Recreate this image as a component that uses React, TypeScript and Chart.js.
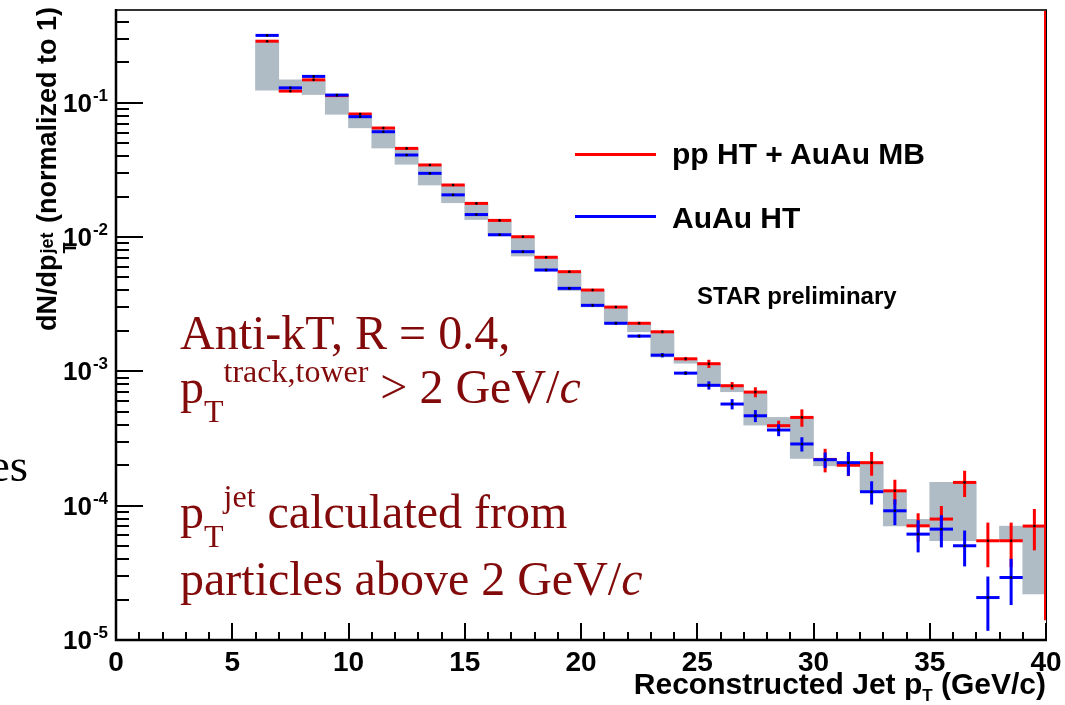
import React, { useEffect, useRef } from 'react';
import { Chart, registerables } from 'chart.js';

Chart.register(...registerables);

// Bin lower edges (GeV/c); every bin is 1 GeV/c wide
const BIN_LOW = [6, 7, 8, 9, 10, 11, 12, 13, 14, 15, 16, 17, 18, 19, 20, 21, 22, 23, 24, 25, 26, 27, 28, 29, 30, 31, 32, 33, 34, 35, 36, 37, 38, 39];

// pp HT + AuAu MB (red)
const RED = [0.287, 0.122, 0.148, 0.113, 0.0824, 0.0648, 0.0457, 0.0344, 0.0244, 0.0178, 0.0133, 0.01005, 0.00707, 0.00552, 0.00403, 0.00301, 0.00228, 0.00197, 0.00124, 0.00114, 0.000782, 0.000701, 0.000394, 0.000454, 0.000221, 0.0002, 0.000209, 0.000129, 0.0000708, 0.0000795, 0.000149, 0.0000548, 0.0000548, 0.0000705];
const RED_ERR = [0.004, 0.002, 0.003, 0.002, 0.0012, 0.0012, 0.0007, 0.0005, 0.0004, 0.0003, 0.0002, 0.00017, 0.00012, 0.0001, 0.00008, 0.00006, 0.00006, 0.00005, 0.00004, 0.00008, 0.00005, 0.00006, 0.000035, 0.000067, 0.000044, 0.000034, 0.000042, 0.000027, 0.000017, 0.00002, 0.000033, 0.00002, 0.00002, 0.000024];

// AuAu HT (blue)
const BLUE = [0.317, 0.129, 0.157, 0.114, 0.0787, 0.0608, 0.0408, 0.0298, 0.0206, 0.0147, 0.0104, 0.00778, 0.00568, 0.00415, 0.0031, 0.00228, 0.00183, 0.00132, 0.00097, 0.000787, 0.000571, 0.000467, 0.000366, 0.000288, 0.00022, 0.000209, 0.000127, 0.0000916, 0.0000614, 0.0000669, 0.0000503, 0.0000207, 0.0000292, null];
const BLUE_ERR = [0.004, 0.002, 0.002, 0.0015, 0.001, 0.0008, 0.0006, 0.0004, 0.0003, 0.00025, 0.0002, 0.00015, 0.00012, 0.0001, 0.00008, 0.00006, 0.00005, 0.00005, 0.00003, 0.000055, 0.00005, 0.000048, 0.000037, 0.000035, 0.000029, 0.000042, 0.000025, 0.00002, 0.0000165, 0.000018, 0.000015, 0.000009, 0.000011, null];

// Grey systematic band (low / high edge per bin)
const SYS_LOW = [0.124, 0.124, 0.115, 0.082, 0.065, 0.046, 0.0348, 0.0244, 0.018, 0.0135, 0.0102, 0.00722, 0.0056, 0.004, 0.00302, 0.00225, 0.00197, 0.00128, 0.00115, 0.00079, 0.000705, 0.000398, 0.000383, 0.000225, 0.000198, 0.000198, 0.000127, 0.0000708, 0.0000708, 0.0000548, 0.0000548, null, 0.0000548, 0.000022];
const SYS_HIGH = [0.29, 0.148, 0.148, 0.114, 0.0824, 0.0648, 0.0457, 0.0344, 0.0244, 0.0178, 0.0133, 0.01005, 0.00707, 0.00552, 0.00403, 0.00301, 0.00228, 0.00197, 0.00124, 0.00114, 0.000782, 0.000701, 0.000454, 0.000454, 0.000221, 0.000209, 0.000209, 0.000129, 0.0000791, 0.000149, 0.000149, null, 0.0000704, 0.0000705];

const X_TICKS = [0, 5, 10, 15, 20, 25, 30, 35, 40];
const Y_DECADES = [-5, -4, -3, -2, -1];

const SANS = '"Liberation Sans", Arial, sans-serif';
const SERIF = '"Liberation Serif", "Times New Roman", serif';
const NOTE = '#820a0a';

const histPlugin = {
  id: 'rootHist',
  beforeDatasetDraw(chart: any, args: any) {
    const ds = chart.data.datasets[args.index];
    if (!ds.errorBars) return;
    const { ctx, chartArea } = chart;
    const x = chart.scales.x;
    const y = chart.scales.y;
    ctx.save();
    ctx.beginPath();
    ctx.rect(chartArea.left, chartArea.top, chartArea.right - chartArea.left, chartArea.bottom - chartArea.top);
    ctx.clip();
    ctx.strokeStyle = ds.borderColor;
    ctx.lineWidth = 3;
    ctx.lineCap = 'butt';
    ds.data.forEach((p: any, i: number) => {
      if (!p || p.y == null) return;
      const py = y.getPixelForValue(p.y);
      ctx.beginPath();
      ctx.moveTo(x.getPixelForValue(p.x - 0.5), py);
      ctx.lineTo(x.getPixelForValue(p.x + 0.5), py);
      ctx.stroke();
      const e = ds.errorBars[i];
      if (e) {
        const px = x.getPixelForValue(p.x);
        const top = y.getPixelForValue(p.y + e);
        const bot = p.y - e > 0 ? y.getPixelForValue(p.y - e) : chartArea.bottom;
        ctx.beginPath();
        ctx.moveTo(px, top);
        ctx.lineTo(px, bot);
        ctx.stroke();
      }
    });
    ctx.restore();
  },
  afterDatasetsDraw(chart: any) {
    const { ctx, chartArea } = chart;
    const x = chart.scales.x;
    const y = chart.scales.y;
    const L = chartArea.left, R = chartArea.right, T = chartArea.top, B = chartArea.bottom;
    ctx.save();
    // red edge line at x = 40
    ctx.strokeStyle = '#ff0000';
    ctx.lineWidth = 2;
    ctx.beginPath();
    ctx.moveTo(x.getPixelForValue(x.max) - 1, T);
    ctx.lineTo(x.getPixelForValue(x.max) - 1, y.getPixelForValue(1.4e-5));
    ctx.stroke();
    // frame
    ctx.strokeStyle = '#333';
    ctx.lineWidth = 2;
    ctx.beginPath();
    ctx.moveTo(L, T);
    ctx.lineTo(R + 1, T);
    ctx.stroke();
    ctx.strokeStyle = '#000';
    ctx.lineWidth = 1;
    ctx.beginPath();
    ctx.moveTo(R + 0.5, T);
    ctx.lineTo(R + 0.5, B);
    ctx.stroke();
    ctx.lineWidth = 2.5;
    ctx.beginPath();
    ctx.moveTo(L, T - 1);
    ctx.lineTo(L, B);
    ctx.lineTo(R + 1, B);
    ctx.stroke();
    // y ticks
    ctx.lineWidth = 2;
    Y_DECADES.forEach((d) => {
      for (let m = 1; m <= 9; m++) {
        const v = m * Math.pow(10, d);
        if (v > y.max) break;
        const py = Math.round(y.getPixelForValue(v));
        ctx.beginPath();
        ctx.moveTo(L, py);
        ctx.lineTo(L + (m === 1 ? 27 : 13), py);
        ctx.stroke();
      }
    });
    // x ticks
    for (let v = 0; v <= 40; v++) {
      const px = Math.round(x.getPixelForValue(v));
      ctx.beginPath();
      ctx.moveTo(px, B);
      ctx.lineTo(px, B - (v % 5 === 0 ? 17 : 8));
      ctx.stroke();
    }
    // x labels
    ctx.fillStyle = '#000';
    ctx.font = `bold 28px ${SANS}`;
    ctx.textAlign = 'center';
    ctx.textBaseline = 'alphabetic';
    X_TICKS.forEach((v) => {
      ctx.fillText(String(v), x.getPixelForValue(v), B + 31);
    });
    // y labels: 10^d
    Y_DECADES.forEach((d) => {
      const py = y.getPixelForValue(Math.pow(10, d));
      const exp = String(d);
      ctx.font = `bold 17px ${SANS}`;
      ctx.textAlign = 'right';
      const ew = ctx.measureText(exp).width;
      ctx.fillText(exp, L - 8, py - 2);
      ctx.font = `bold 26px ${SANS}`;
      ctx.fillText('10', L - 9 - ew, py + 9);
    });
    ctx.restore();
  },
};

function Txt(props: any) {
  const { x, base, size, family, weight, color, right, children, italic } = props;
  const asc = family === SERIF ? 0.8375 : 0.8465;
  const style: any = {
    position: 'absolute',
    top: base - asc * size,
    fontSize: size,
    fontFamily: family,
    fontWeight: weight || 'normal',
    fontStyle: italic ? 'italic' : 'normal',
    color: color || '#000',
    lineHeight: 1,
    whiteSpace: 'nowrap',
  };
  if (right != null) style.right = 1065 - right;
  else style.left = x;
  return <div style={style}>{children}</div>;
}

const shift = (dy: number, size: number, extra: any = {}) => ({
  position: 'relative' as const,
  top: dy,
  fontSize: size,
  ...extra,
});

export default function App() {
  const ref = useRef<HTMLCanvasElement>(null);

  useEffect(() => {
    const centers = BIN_LOW.map((b) => b + 0.5);
    const redPts = centers.map((c, i) => ({ x: c, y: RED[i] }));
    const bluePts = centers.map((c, i) => ({ x: c, y: BLUE[i] })).filter((p) => p.y != null);
    const sysPts = centers
      .map((c, i) => (SYS_LOW[i] == null ? null : { x: c, y: [SYS_LOW[i], SYS_HIGH[i]] }))
      .filter((p) => p != null);

    const chart = new Chart(ref.current as HTMLCanvasElement, {
      type: 'bar',
      data: {
        datasets: [
          {
            type: 'scatter',
            label: 'pp HT + AuAu MB',
            data: redPts,
            borderColor: '#ff0000',
            pointBackgroundColor: '#000',
            pointBorderWidth: 0,
            pointRadius: 1.3,
            errorBars: RED_ERR,
            order: 2,
          } as any,
          {
            type: 'scatter',
            label: 'AuAu HT',
            data: bluePts,
            borderColor: '#0000ff',
            pointBackgroundColor: '#000',
            pointBorderWidth: 0,
            pointRadius: 1.3,
            errorBars: BLUE_ERR,
            order: 1,
          } as any,
          {
            type: 'bar',
            label: 'systematics',
            data: sysPts as any,
            backgroundColor: '#afbbc5',
            borderWidth: 0,
            barPercentage: 1,
            categoryPercentage: 1,
            order: 3,
          } as any,
        ],
      },
      options: {
        animation: false,
        responsive: false,
        devicePixelRatio: 1,
        layout: { padding: { left: 116, right: 19, top: 10, bottom: 65 } },
        plugins: { legend: { display: false }, tooltip: { enabled: false } },
        scales: {
          x: { type: 'linear', min: 0, max: 40, display: false, offset: false },
          y: { type: 'logarithmic', min: 1e-5, max: 0.49, display: false },
        },
      } as any,
      plugins: [histPlugin],
    });
    return () => chart.destroy();
  }, []);

  return (
    <div style={{ position: 'absolute', left: 0, top: 0, width: 1065, height: 705, background: '#fff', overflow: 'hidden' }}>
      <canvas ref={ref} width={1065} height={705} style={{ position: 'absolute', left: 0, top: 0, width: 1065, height: 705 }} />

      {/* Y axis title */}
      <div
        style={{
          position: 'absolute',
          left: 34,
          top: 331,
          transformOrigin: '0 0',
          transform: 'rotate(-90deg)',
          fontFamily: SANS,
          fontWeight: 'bold',
          fontSize: 27,
          lineHeight: 1,
          whiteSpace: 'nowrap',
          color: '#000',
        }}
      >
        dN/dp
        <span style={{ display: 'inline-block', position: 'relative', width: 24, height: 10 }}>
          <span style={{ position: 'absolute', left: 1, top: 15, fontSize: 18 }}>T</span>
          <span style={{ position: 'absolute', left: 1, top: -8, fontSize: 18 }}>jet</span>
        </span>
        {' (normalized to 1)'}
      </div>

      {/* X axis title */}
      <Txt right={1046} base={694} size={30} family={SANS} weight="bold">
        Reconstructed Jet p<span style={shift(7, 17)}>T</span> (GeV/c)
      </Txt>

      {/* Legend */}
      <div style={{ position: 'absolute', left: 575, top: 153, width: 81, height: 3, background: '#ff0000' }} />
      <Txt x={672} base={164} size={30} family={SANS} weight="bold">pp HT + AuAu MB</Txt>
      <div style={{ position: 'absolute', left: 575, top: 215, width: 81, height: 3, background: '#0000ff' }} />
      <Txt x={672} base={228} size={30} family={SANS} weight="bold">AuAu HT</Txt>

      <Txt x={697} base={304} size={24} family={SANS} weight="bold">STAR preliminary</Txt>

      {/* Notes */}
      <Txt x={180} base={349} size={48} family={SERIF} color={NOTE}>Anti-kT, R = 0.4,</Txt>
      <Txt x={180} base={403} size={48} family={SERIF} color={NOTE}>
        p<span style={shift(19, 32)}>T</span>
        <span style={shift(-21, 32)}>track,tower</span> &gt; 2 GeV/<i>c</i>
      </Txt>
      <Txt x={180} base={528} size={48} family={SERIF} color={NOTE}>
        p<span style={shift(19, 32)}>T</span>
        <span style={shift(-21, 32)}>jet</span> calculated from
      </Txt>
      <Txt x={180} base={595} size={48} family={SERIF} color={NOTE}>
        particles above 2 GeV/<i>c</i>
      </Txt>

      <Txt x={-11} base={481} size={47} family={SERIF}>es</Txt>
    </div>
  );
}
